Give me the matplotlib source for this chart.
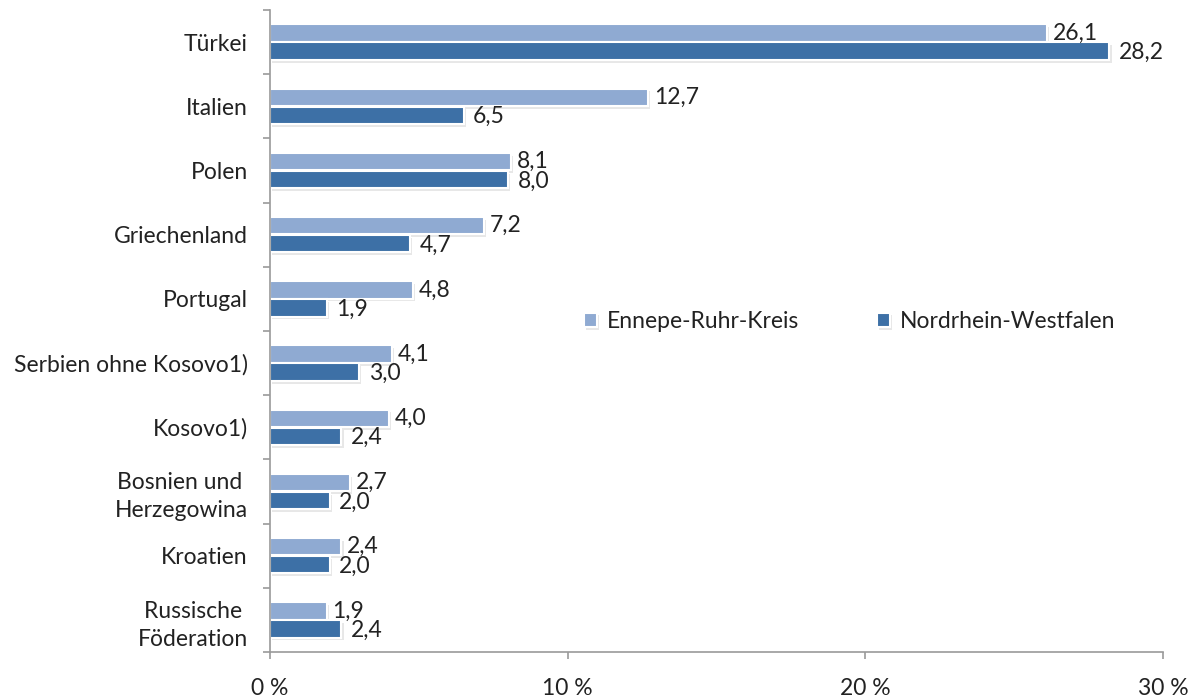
import numpy as np
import matplotlib
matplotlib.use("Agg")
import matplotlib.pyplot as plt
import matplotlib.patheffects as pe

plt.rcParams['font.family'] = ['Lato', 'DejaVu Sans']

countries = ["Türkei", "Italien", "Polen", "Griechenland", "Portugal",
             "Serbien ohne Kosovo1)", "Kosovo1)", "Bosnien und \nHerzegowina",
             "Kroatien", "Russische \nFöderation"]
ennepe = [26.1, 12.7, 8.1, 7.2, 4.8, 4.1, 4.0, 2.7, 2.4, 1.9]
nrw = [28.2, 6.5, 8.0, 4.7, 1.9, 3.0, 2.4, 2.0, 2.0, 2.4]

c_light = "#8FAAD2"
c_dark = "#3D70A6"
axis_col = "#9A9A9A"
txt_col = "#222222"
fs = 16.5

fig = plt.figure(figsize=(11.97, 6.98), dpi=100)
ax = fig.add_axes([0.2256, 0.0659, 0.7460, 0.9198])

y = np.arange(len(countries))
h = 0.27
shadow = [pe.SimplePatchShadow(offset=(1.5, -2), shadow_rgbFace="#888888", alpha=0.2), pe.Normal()]

b1 = ax.barh(y - 0.14, ennepe, height=h, color=c_light, edgecolor="white",
             linewidth=1.5, label="Ennepe-Ruhr-Kreis")
b2 = ax.barh(y + 0.14, nrw, height=h, color=c_dark, edgecolor="white",
             linewidth=1.5, label="Nordrhein-Westfalen")
for b in list(b1) + list(b2):
    b.set_path_effects(shadow)

for yi, v in zip(y, ennepe):
    ax.annotate(f"{v:.1f}".replace(".", ","), (v, yi - 0.14), xytext=(4, 0),
                textcoords="offset points", va="center", ha="left",
                fontsize=fs, color=txt_col)
for yi, v in zip(y, nrw):
    ax.annotate(f"{v:.1f}".replace(".", ","), (v, yi + 0.14), xytext=(7, -1),
                textcoords="offset points", va="center", ha="left",
                fontsize=fs, color=txt_col)

ax.set_xlim(0, 30)
ax.set_ylim(9.5, -0.5)
ax.set_xticks([0, 10, 20, 30])
ax.set_xticklabels(["0 %", "10 %", "20 %", "30 %"])
ax.set_yticks(y)
ax.set_yticklabels(countries, linespacing=1.4)
ax.set_yticks(np.arange(-0.5, 10, 1), minor=True)

ax.tick_params(axis="y", which="major", length=0, pad=16, labelsize=fs, labelcolor=txt_col)
ax.tick_params(axis="y", which="minor", length=5, color=axis_col, width=1.2)
ax.tick_params(axis="x", length=5, color=axis_col, width=1.2, pad=14,
               labelsize=fs, labelcolor=txt_col)

for s in ["top", "right"]:
    ax.spines[s].set_visible(False)
for s in ["left", "bottom"]:
    ax.spines[s].set_color(axis_col)
    ax.spines[s].set_linewidth(1.2)

ax.legend(loc="center left", bbox_to_anchor=(0.328, 0.515), ncol=2, frameon=False,
          fontsize=fs, handlelength=0.6, handleheight=0.6, handletextpad=0.4,
          columnspacing=3.4, labelcolor=txt_col)

fig.savefig("out.png", dpi=100)
